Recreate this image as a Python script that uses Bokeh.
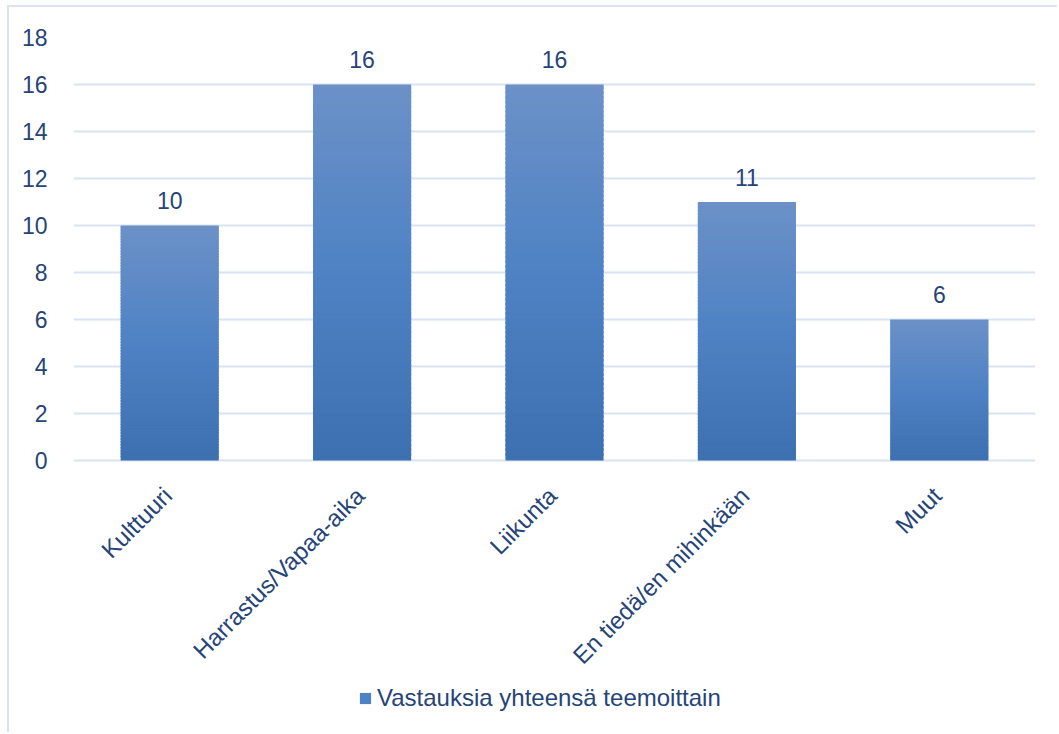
from bokeh.plotting import figure
from bokeh.models import (ColumnDataSource, FactorRange, Range1d, LabelSet, Legend,
                          LegendItem, FixedTicker)
from bokeh.core.properties import value
from bokeh.embed import file_html
from bokeh.resources import INLINE
import math

categories = ["Kulttuuri", "Harrastus/Vapaa-aika", "Liikunta", "En tiedä/en mihinkään", "Muut"]
values = [10, 16, 16, 11, 6]
y_ticks = [0, 2, 4, 6, 8, 10, 12, 14, 16, 18]
series_name = "Vastauksia yhteensä teemoittain"

TEXT = "#264478"
GRID = "#d9e3f2"
FONT = "Liberation Sans"

# gradient stops (bottom -> middle -> top)
stops = [(0.0, (61, 112, 176)), (0.5, (78, 130, 196)), (1.0, (108, 145, 199))]


def grad(t):
    for (t0, c0), (t1, c1) in zip(stops[:-1], stops[1:]):
        if t <= t1:
            f = (t - t0) / (t1 - t0)
            return "#%02x%02x%02x" % tuple(int(round(a + (b - a) * f)) for a, b in zip(c0, c1))
    return "#%02x%02x%02x" % stops[-1][1]


# each bar is painted as a stack of thin slices to imitate the gradient fill;
# every slice overlaps the next one slightly (the next one covers it) to avoid seams
N = 80
xs, bottoms, tops, colors = [], [], [], []
for cat, v in zip(categories, values):
    for k in range(N):
        xs.append(cat)
        bottoms.append(v * k / N)
        tops.append(v * min(k + 1.6, N) / N)
        colors.append(grad((k + 0.5) / N))
slices = ColumnDataSource(dict(x=xs, bottom=bottoms, top=tops, color=colors))
labels_src = ColumnDataSource(dict(x=categories, y=values, t=[str(v) for v in values]))
cat_src = ColumnDataSource(dict(x=categories, y=[0] * len(categories), t=categories))

# the frame runs down to the bottom so that category labels and legend sit inside it
p = figure(width=1050, height=727, x_range=FactorRange(*categories, range_padding=0),
           y_range=Range1d(-11.66, 18), output_backend="svg", toolbar_location=None,
           min_border_left=64, min_border_right=24, min_border_top=30, min_border_bottom=0)
p.styles = {"border-left": "2px solid #dae3f3", "border-top": "2px solid #dae3f3",
            "margin-left": "7px", "margin-top": "5px"}
p.outline_line_color = None
p.background_fill_color = "white"

r = p.vbar(x="x", bottom="bottom", top="top", width=0.51, source=slices,
           fill_color="color", line_color=None)

p.add_layout(LabelSet(x="x", y="y", text="t", source=labels_src, text_align="center",
                      text_baseline="alphabetic", y_offset=16, text_font=value(FONT),
                      text_font_size="23px", text_color=TEXT))

p.add_layout(LabelSet(x="x", y="y", text="t", source=cat_src, text_align="right",
                      text_baseline="middle", angle=math.pi / 4, x_offset=-2, y_offset=-31,
                      text_font=value(FONT), text_font_size="24px", text_color=TEXT))

p.xaxis.visible = False
p.xgrid.grid_line_color = None
p.ygrid.grid_line_color = GRID
p.ygrid.grid_line_width = 2
p.yaxis.ticker = FixedTicker(ticks=y_ticks)
p.yaxis.axis_line_color = None
p.yaxis.major_tick_line_color = None
p.yaxis.minor_tick_line_color = None
p.yaxis.major_label_standoff = 20
p.yaxis.major_label_text_font = FONT
p.yaxis.major_label_text_font_size = "23px"
p.yaxis.major_label_text_color = TEXT

legend = Legend(items=[LegendItem(label=series_name, renderers=[r], index=N // 2)],
                location=(285, 22), orientation="horizontal",
                padding=0, margin=0, spacing=0, border_line_color=None,
                background_fill_alpha=0, glyph_width=14, glyph_height=14,
                label_standoff=5, label_text_font=FONT, label_text_font_size="24px",
                label_text_color=TEXT)
p.add_layout(legend, "center")

open("out.html", "w").write(file_html(p, INLINE))
